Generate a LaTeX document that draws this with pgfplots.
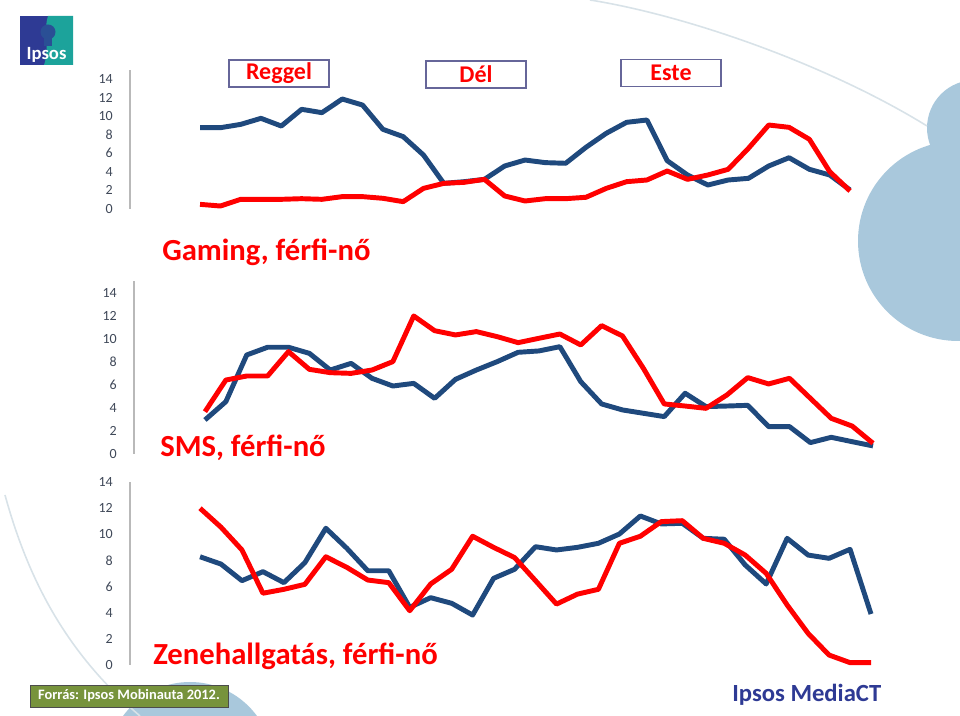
\documentclass[border=0pt]{standalone}
\usepackage{fontspec}
\setmainfont{Carlito}
\usepackage{pgfplots}
\usepackage{pgfplotstable}
\pgfplotsset{compat=1.18}

\definecolor{ferfi}{HTML}{1F497D}
\definecolor{noi}{HTML}{FF0000}
\definecolor{tickc}{HTML}{3F4858}
\definecolor{cloud}{HTML}{A9C8DC}
\definecolor{arcc}{HTML}{D8E2E8}
\definecolor{ipsosblue}{HTML}{2E3A94}
\definecolor{ipsosteal}{HTML}{1CA39B}
\definecolor{forras}{HTML}{77933C}

% t = time slot, f = ferfi (blue), n = no (red)
\pgfplotstableread{
t f n
0 8.75 0.50
1 8.75 0.32
2 9.11 1.04
3 9.76 1.04
4 8.93 1.04
5 10.73 1.11
6 10.37 1.04
7 11.84 1.33
8 11.19 1.33
9 8.58 1.15
10 7.79 0.79
11 5.81 2.22
12 2.76 2.76
13 2.94 2.87
14 3.19 3.19
15 4.63 1.40
16 5.27 0.86
17 4.99 1.11
18 4.92 1.11
19 6.64 1.26
20 8.15 2.22
21 9.33 2.94
22 9.58 3.12
23 5.20 4.09
24 3.66 3.19
25 2.58 3.66
26 3.12 4.27
27 3.30 6.53
28 4.63 9.04
29 5.52 8.79
30 4.27 7.50
31 3.66 4.02
32 2.05 1.94
}\gaming

\pgfplotstableread{
t f n
0 2.96 3.68
1 4.55 6.43
2 8.61 6.78
3 9.28 6.78
4 9.28 8.90
5 8.75 7.36
6 7.30 7.07
7 7.88 7.01
8 6.58 7.30
9 5.91 8.03
10 6.14 12.00
11 4.84 10.72
12 6.49 10.35
13 7.30 10.64
14 8.03 10.20
15 8.84 9.68
16 8.96 10.06
17 9.33 10.43
18 6.29 9.48
19 4.35 11.16
20 3.83 10.26
21 3.54 7.45
22 3.25 4.35
23 5.28 4.17
24 4.12 3.97
25 4.17 5.13
26 4.23 6.64
27 2.38 6.09
28 2.38 6.58
29 0.99 4.84
30 1.45 3.10
31 1.07 2.43
32 0.70 0.93
}\sms

\pgfplotstableread{
t f n
0 8.28 11.99
1 7.72 10.54
2 6.45 8.80
3 7.14 5.49
4 6.30 5.79
5 7.83 6.17
6 10.46 8.28
7 8.93 7.47
8 7.21 6.50
9 7.21 6.30
10 4.41 4.15
11 5.15 6.20
12 4.72 7.32
13 3.82 9.85
14 6.63 9.00
15 7.32 8.22
16 9.05 6.45
17 8.80 4.66
18 9.00 5.42
19 9.31 5.79
20 10.02 9.31
21 11.40 9.85
22 10.79 10.97
23 10.84 11.04
24 9.69 9.69
25 9.62 9.31
26 7.65 8.41
27 6.20 7.01
28 9.69 4.59
29 8.41 2.42
30 8.16 0.76
31 8.85 0.18
32 3.90 0.18
}\zene

\pgfplotsset{
  panel/.style={anchor=south west, scale only axis, ymin=0,
    axis x line=none, axis y line=left,
    y axis line style={-, draw=gray!55, line width=0.8pt},
    ytick={0,2,...,14}, major tick length=0pt,
    /pgf/number format/assume math mode=true,
    yticklabel style={font=\fontsize{10.5}{11}\selectfont, text=tickc,
      inner xsep=0pt, xshift=-12.75pt},
    clip=false,
    every axis plot/.append style={line width=3.7pt, line join=round, no markers}},
  ferfiline/.style={ferfi},
  noiline/.style={noi},
}

\begin{document}
\begin{tikzpicture}
\useasboundingbox (0,0) rectangle (720pt,537pt);

\begin{scope}[x=0.75pt,y=0.75pt]
% background decoration
\begin{scope}
  \clip (0,0) rectangle (960,716);
  \fill[cloud] (958,475) circle[radius=100];
  \fill[cloud] (975,588) circle[radius=48];
  \fill[cloud] (190,-49) circle[radius=83];
  \draw[arcc, line width=1.2pt] (590,716) .. controls (690,700) and (830,650) .. (927,590);
  \draw[arcc, line width=1.2pt] (5,221) .. controls (30,130) and (70,60) .. (140,0);
\end{scope}

% Ipsos logo
\fill[ipsosblue] (20,651) rectangle (73,700);
\fill[ipsosteal] (48,700) -- (73,700) -- (73,651) -- (44,651)
  .. controls (50,668) and (43,684) .. cycle;
\fill[ipsosblue!80!ipsosteal] (48,684) circle[radius=7.5];
\fill[ipsosblue!80!ipsosteal] (44,670) rectangle (52,680);
\node[text=white, font=\bfseries\fontsize{14}{15}\selectfont, anchor=base] at (46.5,656) {Ipsos};
\end{scope}

% Gaming
\begin{axis}[panel, at={(97.5pt,380.25pt)}, width=540pt, height=104.5pt,
  xmin=-3.45, xmax=32, ymax=15]
  \addplot[ferfiline] table[x=t, y=f] {\gaming};
  \addplot[noiline] table[x=t, y=n] {\gaming};
\end{axis}

% SMS
\begin{axis}[panel, at={(100.5pt,196.5pt)}, width=554.25pt, height=129.4pt,
  xmin=-3.4, xmax=32, ymax=15]
  \addplot[ferfiline] table[x=t, y=f] {\sms};
  \addplot[noiline] table[x=t, y=n] {\sms};
\end{axis}

% Zenehallgatas
\begin{axis}[panel, at={(97.5pt,38.25pt)}, width=555.75pt, height=137.25pt,
  xmin=-3.34, xmax=32, ymax=14]
  \addplot[ferfiline] table[x=t, y=f] {\zene};
  \addplot[noiline] table[x=t, y=n] {\zene};
\end{axis}

\begin{scope}[x=0.75pt,y=0.75pt]
% panel titles
\begin{scope}[every node/.style={text=noi, anchor=base west, inner sep=0pt,
    font=\bfseries\fontsize{23}{26}\selectfont}]
  \node at (162,455) {Gaming, férfi-nő};
  \node at (160,259) {SMS, férfi-nő};
  \node at (153,51) {Zenehallgatás, férfi-nő};
\end{scope}

% time of day boxes
\begin{scope}[every node/.style={draw=gray!80!blue, line width=0.8pt, fill=white,
    text=noi, font=\bfseries\fontsize{18}{20}\selectfont,
    minimum width=75pt, minimum height=20.25pt, inner sep=0pt}]
  \node at (279,642.5) {Reggel};
  \node at (476,641.5) {Dél};
  \node at (671,643) {Este};
\end{scope}

% source
\node[fill=forras, draw=black!70, line width=0.6pt, text=white,
  font=\bfseries\fontsize{10.8}{12}\selectfont,
  minimum width=148.5pt, minimum height=16.5pt, inner sep=0pt] at (129,20)
  {Forrás: Ipsos Mobinauta 2012.};

\node[text=ipsosblue, anchor=base west, inner sep=0pt,
  font=\bfseries\fontsize{18.5}{20}\selectfont] at (732,14) {Ipsos MediaCT};
\end{scope}
\end{tikzpicture}
\end{document}
